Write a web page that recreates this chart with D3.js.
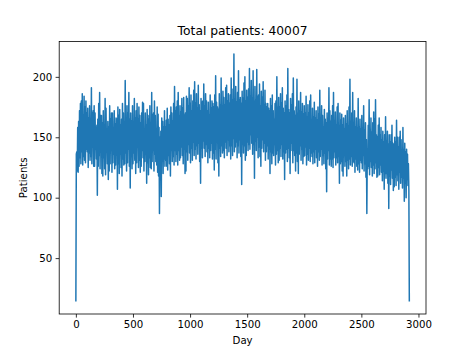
<!DOCTYPE html>
<html>
<head>
<meta charset="utf-8">
<script src="https://cdn.jsdelivr.net/npm/d3@7"></script>
<style>
  html, body { margin: 0; padding: 0; background: #fff; }
  svg { display: block; }
  text { font-family: "DejaVu Sans", sans-serif; fill: #000; }
</style>
</head>
<body>
<svg id="chart" width="473" height="354"></svg>
<script>
// ---- data (one value every 4 days) ----
const title = "Total patients: 40007";
const xLabel = "Day";
const yLabel = "Patients";
const dayStep = 4;
const patients = [
  14,136, 138,122, 158,121, 163,126, 172,133, 178,128, 180,138, 186,127, 168,134, 184,131,
  175,129, 180,140, 170,138, 174,125, 166,137, 176,131, 162,134, 191,128, 170,142, 172,126,
  176,126, 170,140, 158,132, 160,102, 165,126, 178,135, 187,124, 168,138, 168,120, 162,118,
  172,133, 160,124, 182,119, 174,138, 155,128, 163,115, 158,122, 176,128, 165,139, 170,121,
  170,129, 157,136, 172,124, 161,127, 166,140, 165,107, 175,128, 168,120, 173,136, 160,125,
  165,118, 178,132, 170,127, 158,128, 197,137, 164,122, 176,129, 170,140, 187,126, 165,108,
  170,134, 163,124, 176,128, 158,137, 182,131, 166,120, 172,129, 178,142, 165,125, 175,131,
  168,121, 162,126, 170,139, 179,133, 178,122, 157,130, 170,136, 160,112, 173,129, 168,119,
  165,133, 176,125, 162,124, 187,130, 168,139, 170,122, 180,136, 168,130, 157,127, 175,121,
  169,118, 158,87, 150,125, 155,101, 166,134, 163,120, 158,132, 172,126, 158,131, 164,126,
  174,123, 165,135, 160,128, 168,118, 175,139, 170,130, 163,134, 178,127, 192,139, 172,130,
  175,136, 180,127, 187,139, 168,131, 176,133, 171,142, 182,135, 174,128, 183,140, 168,120,
  170,122, 184,138, 182,131, 176,144, 191,137, 178,129, 185,141, 172,131, 180,146, 189,135,
  196,140, 178,132, 186,143, 174,136, 193,145, 177,130, 172,112, 182,141, 179,133, 180,147,
  194,141, 176,134, 186,144, 180,138, 172,129, 179,141, 168,133, 185,139, 174,145, 180,132,
  178,137, 175,123, 185,140, 201,132, 179,146, 175,129, 173,118, 186,141, 177,134, 199,143,
  176,137, 188,139, 183,133, 177,146, 191,141, 193,135, 180,148, 186,138, 178,143, 185,132,
  199,143, 181,135, 190,149, 219,138, 182,142, 192,146, 179,133, 187,143, 205,137, 181,148,
  183,134, 178,111, 188,144, 182,137, 195,143, 200,131, 180,135, 189,146, 183,139, 190,144,
  207,140, 184,152, 197,145, 182,136, 205,144, 180,116, 192,147, 181,139, 206,150, 184,133,
  185,142, 194,134, 176,126, 188,141, 183,148, 196,138, 177,145, 189,131, 178,138, 175,143,
  178,132, 174,140, 172,120, 182,138, 176,128, 185,137, 172,135, 165,144, 178,127, 180,136,
  200,139, 175,129, 183,131, 175,141, 186,134, 178,144, 191,132, 174,138, 170,115, 180,137,
  176,140, 185,130, 207,141, 173,133, 170,120, 182,139, 177,145, 186,129, 199,139, 172,135,
  168,122, 175,137, 198,130, 170,120, 180,136, 172,143, 187,131, 171,140, 178,128, 169,134,
  176,135, 170,142, 184,127, 167,136, 177,131, 170,141, 180,130, 185,137, 165,134, 174,128,
  167,138, 179,129, 166,140, 172,133, 164,126, 175,138, 169,131, 189,134, 166,140, 176,127,
  168,135, 158,128, 173,137, 165,124, 162,105, 170,132, 166,139, 191,127, 172,132, 163,126,
  168,132, 176,125, 187,133, 164,138, 171,127, 160,133, 175,129, 178,134, 160,112, 170,128,
  164,130, 169,122, 160,118, 166,135, 157,126, 168,130, 161,118, 172,131, 159,124, 175,132,
  198,127, 163,134, 170,126, 187,130, 162,129, 172,121, 158,132, 166,126, 158,123, 182,128,
  159,121, 165,131, 157,129, 168,124, 158,135, 176,122, 156,128, 162,117, 148,87, 140,124,
  160,126, 181,119, 156,130, 166,125, 154,118, 162,127, 171,120, 165,124, 181,129, 152,117,
  150,118, 160,125, 166,119, 152,127, 158,121, 148,114, 155,122, 146,107, 152,120, 167,116,
  147,120, 155,112, 144,91, 152,118, 146,111, 152,123, 160,116, 145,106, 144,109, 150,117,
  146,110, 164,119, 150,114, 142,107, 150,121, 155,112, 148,117, 139,108, 158,116, 140,97,
  145,112, 138,100, 140,115, 136,110, 128,106, 14
];
const days = patients.map((_, i) => i * dayStep);
const xTicks = [0, 500, 1000, 1500, 2000, 2500, 3000];
const yTicks = [50, 100, 150, 200];

// ---- layout ----
const plot = { left: 59.2, right: 426, top: 41.5, bottom: 314 };
const svg = d3.select("#chart");

function padded(ext) {
  const m = (ext[1] - ext[0]) * 0.05;
  return [ext[0] - m, ext[1] + m];
}
const x = d3.scaleLinear().domain(padded(d3.extent(days))).range([plot.left, plot.right]);
const y = d3.scaleLinear().domain(padded(d3.extent(patients))).range([plot.bottom, plot.top]);

svg.append("clipPath").attr("id", "clip")
  .append("rect")
  .attr("x", plot.left).attr("y", plot.top)
  .attr("width", plot.right - plot.left).attr("height", plot.bottom - plot.top);

const line = d3.line().x((d, i) => x(days[i])).y(d => y(d));
svg.append("path")
  .datum(patients)
  .attr("clip-path", "url(#clip)")
  .attr("fill", "none")
  .attr("stroke", "#1f77b4")
  .attr("stroke-width", 1.5)
  .attr("stroke-linejoin", "round")
  .attr("stroke-linecap", "butt")
  .attr("d", line);

const fs = 10.2;
const xAxis = d3.axisBottom(x).tickValues(xTicks).tickSize(3.6).tickPadding(3.3).tickFormat(d3.format("d"));
const yAxis = d3.axisLeft(y).tickValues(yTicks).tickSize(3.6).tickPadding(3.3).tickFormat(d3.format("d"));

const gx = svg.append("g").attr("transform", `translate(0,${plot.bottom})`).call(xAxis);
const gy = svg.append("g").attr("transform", `translate(${plot.left},0)`).call(yAxis);
[gx, gy].forEach(g => {
  g.select(".domain").remove();
  g.selectAll(".tick line").attr("stroke", "#000").attr("stroke-width", 0.8);
  g.selectAll(".tick text").attr("font-family", "DejaVu Sans").attr("font-size", fs).attr("fill", "#000");
});

svg.append("rect")
  .attr("x", plot.left).attr("y", plot.top)
  .attr("width", plot.right - plot.left).attr("height", plot.bottom - plot.top)
  .attr("fill", "none").attr("stroke", "#000").attr("stroke-width", 0.8);

svg.append("text")
  .attr("x", (plot.left + plot.right) / 2).attr("y", 35.3)
  .attr("text-anchor", "middle").attr("font-size", 12.3)
  .text(title);
svg.append("text")
  .attr("x", (plot.left + plot.right) / 2).attr("y", 344)
  .attr("text-anchor", "middle").attr("font-size", fs)
  .text(xLabel);
svg.append("text")
  .attr("transform", `translate(26.5,${(plot.top + plot.bottom) / 2}) rotate(-90)`)
  .attr("text-anchor", "middle").attr("font-size", fs)
  .text(yLabel);
</script>
</body>
</html>
